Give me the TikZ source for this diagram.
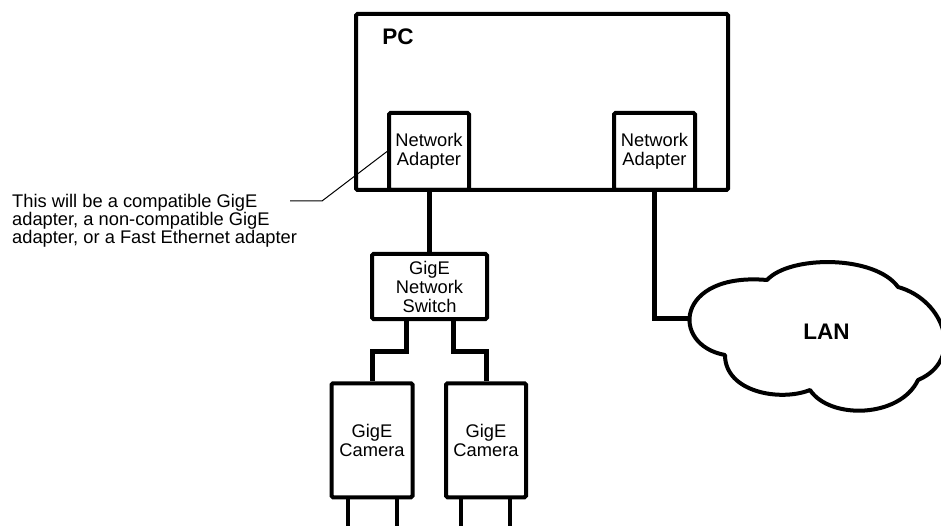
\documentclass[tikz,border=0pt]{standalone}
\usepackage{fontspec}
\setmainfont{Liberation Sans}
\usetikzlibrary{calc}
\begin{document}
\begin{tikzpicture}[x=1pt,y=-1pt,
  box/.style={draw, line width=4pt, rectangle, rounded corners=1.5pt, inner sep=0pt, align=center, font=\fontsize{18.3}{19}\selectfont},
  wire/.style={line width=5pt, line join=miter},
  leg/.style={line width=4pt},
  lead/.style={line width=1pt},
  big/.style={font=\fontsize{22.5}{23}\bfseries\selectfont, inner sep=0pt}]
\useasboundingbox (0,0) rectangle (941,526);
% boxes
\node[box, minimum width=372pt, minimum height=176pt] (pc) at (542,102) {};
\node[big] (pclabel) at (398,36.5) {PC};
\node[box, minimum width=80pt, minimum height=77pt] (adL) at (429,151.5) {Network\\Adapter};
\node[box, minimum width=81pt, minimum height=77pt] (adR) at (654.5,151.5) {Network\\Adapter};
\node[box, minimum width=115pt, minimum height=65pt] (sw) at (429.5,286.5) {GigE\\Network\\Switch};
\node[box, minimum width=81pt, minimum height=114pt] (camL) at (372,440.3) {GigE\\Camera};
\node[box, minimum width=80pt, minimum height=114pt] (camR) at (486,440.3) {GigE\\Camera};
% annotation
\node[anchor=north west, inner sep=0pt, align=left, font=\fontsize{18.3}{16.5}\selectfont] (note) at (12,194)
  {This will be a compatible GigE\\adapter, a non-compatible GigE\\adapter, or a Fast Ethernet adapter};
\coordinate (leadA) at (290,201);
\coordinate (leadB) at (322,201);
\draw[lead] (leadA) -- (leadB) -- (adL.west);
% wires
\draw[wire] (adL.south) -- (adL.south |- sw.north);
\coordinate (jL) at ([xshift=-23.5pt]sw.south);
\coordinate (jR) at ([xshift=23.5pt]sw.south);
\draw[wire] (jL) -- (jL |- 0,351) -| (camL.north);
\draw[wire] (jR) -- (jR |- 0,351) -| (camR.north);
% camera legs
\coordinate (l1) at ([xshift=-24pt]camL.south);
\coordinate (l2) at ([xshift=24.5pt]camL.south);
\coordinate (l3) at ([xshift=-25pt]camR.south);
\coordinate (l4) at ([xshift=24pt]camR.south);
\foreach \c in {l1,l2,l3,l4} \draw[leg] (\c) -- (\c |- 0,540);
% cloud
\coordinate (lanW) at (691,318);
\draw[line width=4pt, line join=round]
  (767,280) .. controls (790,255) and (875,255) .. (898,287)
  .. controls (945,300) and (965,360) .. (918,380)
  .. controls (900,418) and (830,420) .. (810,390)
  .. controls (780,402) and (725,392) .. (725,355)
  .. controls (670,345) and (675,272) .. (767,280) -- cycle;
\node[big] (lan) at (826.5,331.5) {LAN};
\draw[wire] (adR.south) |- (lanW);
\end{tikzpicture}
\end{document}
